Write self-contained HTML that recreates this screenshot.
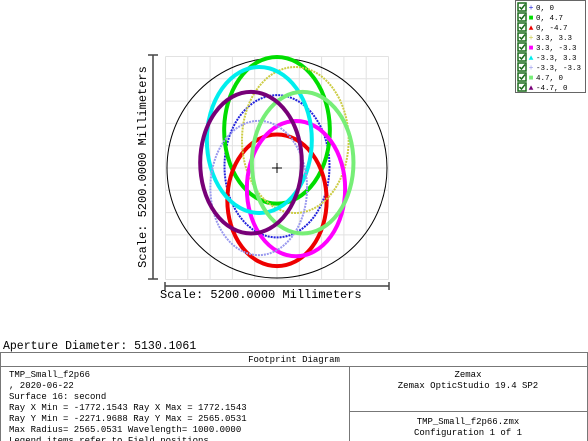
<!DOCTYPE html>
<html><head><meta charset="utf-8"><style>
body{margin:0;background:#fff;width:588px;height:441px;overflow:hidden;font-family:"Liberation Mono",monospace;}
svg{position:absolute;left:0;top:0}
</style></head><body>
<svg width="588" height="441">
<g id="grid"></g>
<circle cx="277" cy="168" r="110" fill="none" stroke="#000" stroke-width="1"/>
<g id="ellipses"></g>
<g><line x1="272" y1="168" x2="282" y2="168" stroke="#000"/><line x1="277" y1="163" x2="277" y2="173" stroke="#000"/></g>
<g stroke="#444" stroke-width="1.5">
<line x1="153" y1="55" x2="153" y2="279"/><line x1="148" y1="55" x2="158" y2="55"/><line x1="148" y1="279" x2="158" y2="279"/></g>
<text x="0" y="0" transform="translate(146,167) rotate(-90)" text-anchor="middle" font-size="12" font-family="Liberation Mono, monospace">Scale: 5200.0000 Millimeters</text>
<g stroke="#444" stroke-width="1.5">
<line x1="165" y1="286" x2="389" y2="286"/><line x1="165" y1="282" x2="165" y2="290"/><line x1="389" y1="282" x2="389" y2="290"/></g>
<text x="160" y="298" font-size="12" font-family="Liberation Mono, monospace">Scale: 5200.0000 Millimeters</text>
<g id="legend">
<rect x="515.5" y="0.5" width="70" height="92" fill="#fff" stroke="#666"/>
</g>
<text x="3" y="349" font-size="11.5" font-family="Liberation Mono, monospace">Aperture Diameter: 5130.1061</text>
<g fill="none" stroke="#777">
<rect x="0.5" y="352.5" width="587" height="90"/>
<line x1="0" y1="366.5" x2="588" y2="366.5"/>
<line x1="349.5" y1="366" x2="349.5" y2="441"/>
<line x1="349" y1="411.5" x2="588" y2="411.5"/>
</g>
<g font-size="9" font-family="Liberation Mono, monospace">
<text x="294" y="362" text-anchor="middle">Footprint Diagram</text>
<text x="9" y="377">TMP_Small_f2p66</text>
<text x="9" y="388">, 2020-06-22</text>
<text x="9" y="399">Surface 16: second</text>
<text x="9" y="410">Ray X Min = -1772.1543 Ray X Max = 1772.1543</text>
<text x="9" y="421">Ray Y Min = -2271.9688 Ray Y Max = 2565.0531</text>
<text x="9" y="432">Max Radius= 2565.0531 Wavelength= 1000.0000</text>
<text x="9" y="443">Legend items refer to Field positions</text>
<text x="468" y="377" text-anchor="middle">Zemax</text>
<text x="468" y="388" text-anchor="middle">Zemax OpticStudio 19.4 SP2</text>
<text x="468" y="424" text-anchor="middle">TMP_Small_f2p66.zmx</text>
<text x="468" y="435" text-anchor="middle">Configuration 1 of 1</text>
</g>
</svg>
<script>
const fieldLabels=["0, 0","0, 4.7","0, -4.7","3.3, 3.3","3.3, -3.3","-3.3, 3.3","-3.3, -3.3","4.7, 0","-4.7, 0"];
const centerX=[0,0,0,427,443,-412,-427,598,-606];
const centerY=[40,878,-754,653,-482,653,-466,124,124];
const radiusX=[1224,1232,1158,1243,1146,1224,1127,1185,1185];
const radiusY=[1659,1710,1535,1702,1577,1702,1566,1651,1651];
const colors=["#2222dd","#00dd00","#ee0000","#cccc44","#ff00ff","#00eeee","#9999ee","#77ee77","#770077"];
const widths=[2,4,4,2,4,4,2,4,4];
const legendSymbols=["+","■","▲","+","■","▲","+","■","▲"];
const NS="http://www.w3.org/2000/svg";
const CX=277,CY=168,S=223/5200;
const sx=v=>CX+v*S, sy=v=>CY-v*S;
const grid=document.getElementById('grid');
for(let i=0;i<=10;i++){
 const l=document.createElementNS(NS,'line');
 
 
 const x=sx(-2600+i*520);
 l.setAttribute('x1',x);l.setAttribute('x2',x);l.setAttribute('y1',sy(2600));l.setAttribute('y2',sy(-2600));
 l.setAttribute('stroke','#e2e2e2');grid.appendChild(l);
 const h=document.createElementNS(NS,'line');
 
 
 const y=sy(-2600+i*520);
 h.setAttribute('y1',y);h.setAttribute('y2',y);h.setAttribute('x1',sx(-2600));h.setAttribute('x2',sx(2600));
 h.setAttribute('stroke','#e2e2e2');grid.appendChild(h);
}
const eg=document.getElementById('ellipses');
for(let i=0;i<fieldLabels.length;i++){
 const e=document.createElementNS(NS,'ellipse');
 
 
 e.setAttribute('cx',sx(centerX[i]));e.setAttribute('cy',sy(centerY[i]));
 e.setAttribute('rx',radiusX[i]*S);e.setAttribute('ry',radiusY[i]*S);
 e.setAttribute('fill','none');e.setAttribute('stroke',colors[i]);e.setAttribute('stroke-width',widths[i]);
 if(widths[i]<3)e.setAttribute('stroke-dasharray','2 1');
 eg.appendChild(e);
}
const lg=document.getElementById('legend');
for(let i=0;i<fieldLabels.length;i++){
 const y=7+i*10;
 const b=document.createElementNS(NS,'rect');
 
 
 b.setAttribute('x',518);b.setAttribute('y',y-4);b.setAttribute('width',8);b.setAttribute('height',8);
 b.setAttribute('fill','#fff');b.setAttribute('stroke','#1a6a1a');b.setAttribute('stroke-width','1.5');lg.appendChild(b);
 const c=document.createElementNS(NS,'path');
 
 
 c.setAttribute('d',`M519.5 ${y} L521.5 ${y+2} L525 ${y-2.5}`);c.setAttribute('fill','none');c.setAttribute('stroke','#1a6a1a');c.setAttribute('stroke-width','1.5');lg.appendChild(c);
 const s=document.createElementNS(NS,'text');
 
 
 s.setAttribute('x',531);s.setAttribute('y',y+3);s.setAttribute('font-size','8');s.setAttribute('text-anchor','middle');s.setAttribute('fill',colors[i]);
 s.textContent=legendSymbols[i];lg.appendChild(s);
 const t=document.createElementNS(NS,'text');
 
 
 t.setAttribute('x',536);t.setAttribute('y',y+3);t.setAttribute('font-size','7.5');t.setAttribute('font-family','Liberation Mono, monospace');
 t.textContent=fieldLabels[i];lg.appendChild(t);
}
</script>
</body></html>
